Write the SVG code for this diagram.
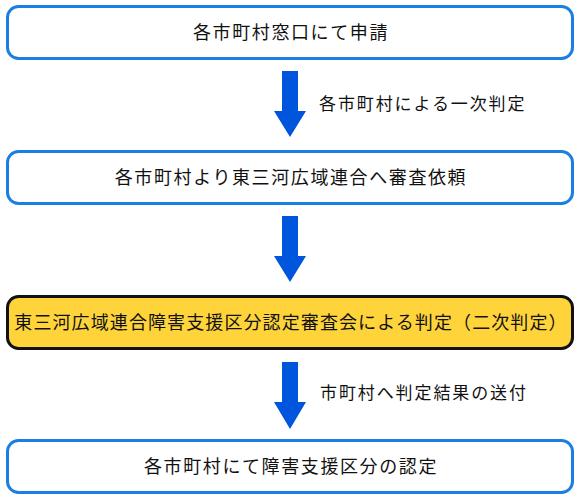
<svg xmlns="http://www.w3.org/2000/svg" width="580" height="500" viewBox="0 0 580 500">
<style>
.box{fill:#ffffff;stroke:#1a7fe0;stroke-width:3}
.hl{fill:#ffd43b;stroke:#111111;stroke-width:3}
.t{font-family:"Noto Sans CJK JP","Noto Sans",sans-serif;font-size:18px;fill:#111111;text-anchor:middle;letter-spacing:1.6px}
.lbl{font-family:"Noto Sans CJK JP","Noto Sans",sans-serif;font-size:17px;fill:#111111;letter-spacing:1.9px}
.arr{fill:#0055dd}
</style>
<rect width="580" height="500" fill="#ffffff"/>
<g id="connectors">
<polygon class="arr" points="282,71 298,71 298,111 306,111 290,137 274,111 282,111"/>
<polygon class="arr" points="282,216 298,216 298,256 306,256 290,282 274,256 282,256"/>
<polygon class="arr" points="282,362 298,362 298,402 306,402 290,429 274,402 282,402"/>
<text class="lbl" x="319" y="110">各市町村による一次判定</text>
<text class="lbl" x="320" y="399">市町村へ判定結果の送付</text>
</g>
<g id="node1">
<rect class="box" x="7.5" y="6.5" width="565" height="52" rx="11"/>
<text class="t" x="291" y="39">各市町村窓口にて申請</text>
</g>
<g id="node2">
<rect class="box" x="7.5" y="151.5" width="565" height="52" rx="11"/>
<text class="t" x="291" y="184">各市町村より東三河広域連合へ審査依頼</text>
</g>
<g id="node3">
<rect class="hl" x="7.5" y="296.5" width="565" height="52" rx="11"/>
<text class="t" x="291" y="329" style="letter-spacing:1.1px">東三河広域連合障害支援区分認定審査会による判定（二次判定）</text>
</g>
<g id="node4">
<rect class="box" x="7.5" y="440.5" width="565" height="52" rx="11"/>
<text class="t" x="291" y="473">各市町村にて障害支援区分の認定</text>
</g>
</svg>
